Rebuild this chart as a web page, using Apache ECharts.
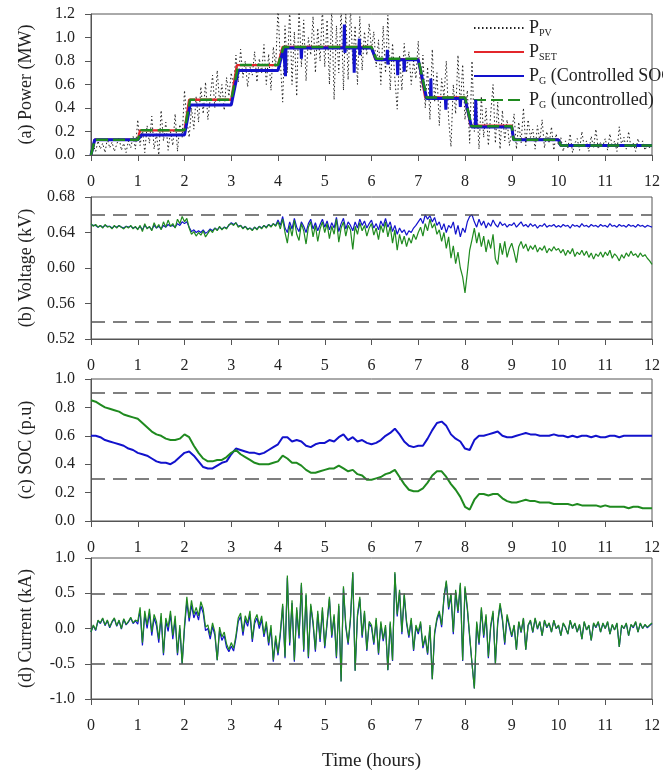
<!DOCTYPE html>
<html><head><meta charset="utf-8">
<script src="https://cdn.jsdelivr.net/npm/echarts@6/dist/echarts.min.js"></script>
<style>html,body{margin:0;padding:0;background:#fff}#c{width:663px;height:773px}</style>
</head><body><div id="c"></div>
<script>
// ---------- DATA ----------
const DT_FAST = 0.05;   // sampling step (hours) of PV, voltage, current
const DT_SOC = 0.1;     // sampling step (hours) of SOC
const X_TICKS = [0,1,2,3,4,5,6,7,8,9,10,11,12];

const P_PV = [
0.00,0.08,0.03,0.12,0.05,0.10,0.02,0.14,0.06,0.11,0.03,0.09,0.15,0.04,0.10,0.02,0.12,0.06,0.16,0.05,
0.30,0.08,0.22,0.02,0.25,0.10,0.33,0.05,0.18,0.00,0.38,0.12,0.28,0.04,0.20,0.08,0.35,0.03,0.26,0.15,
0.55,0.30,0.15,0.40,0.22,0.50,0.28,0.58,0.35,0.62,0.30,0.48,0.68,0.40,0.72,0.45,0.60,0.38,0.66,0.50,
0.70,0.58,0.85,0.62,0.90,0.66,0.80,0.58,0.75,0.68,0.88,0.62,0.82,0.70,0.94,0.60,0.86,0.55,0.92,0.75,
1.25,0.80,0.45,1.10,0.70,1.25,0.60,1.05,0.50,1.25,0.75,1.15,0.63,1.00,0.85,1.18,0.70,1.08,0.80,1.25,
0.75,1.15,0.60,1.25,0.47,1.10,0.70,1.25,0.55,1.20,0.64,1.25,0.78,1.10,0.60,1.18,0.72,1.05,0.85,1.12,
0.90,1.05,0.75,0.98,0.60,1.10,0.70,1.19,0.55,0.95,0.65,0.39,0.85,0.55,0.95,0.70,0.88,0.60,0.80,0.65,
0.97,0.55,0.85,0.40,0.75,0.30,0.90,0.45,0.70,0.25,0.65,0.50,0.80,0.30,0.07,0.60,0.35,0.85,0.40,0.77,
0.30,0.55,0.10,0.80,0.20,0.45,0.05,0.50,0.15,0.40,0.08,0.35,0.60,0.10,0.45,0.05,0.38,0.12,0.30,0.08,
0.20,0.35,0.05,0.28,0.10,0.40,0.08,0.30,0.15,0.22,0.05,0.25,0.12,0.30,0.06,0.20,0.10,0.24,0.04,0.18,
0.08,0.15,0.03,0.12,0.06,0.18,0.02,0.10,0.14,0.04,0.20,0.07,0.12,0.03,0.16,0.06,0.22,0.05,0.11,0.08,
0.14,0.04,0.18,0.07,0.12,0.03,0.24,0.08,0.15,0.05,0.20,0.06,0.10,0.03,0.14,0.07,0.12,0.04,0.09,0.06,
0.08];

const P_SET = [[0,0],[0.08,0.13],[1.0,0.13],[1.05,0.21],[2.0,0.21],[2.1,0.47],[3.0,0.47],[3.12,0.765],[4.0,0.765],[4.1,0.92],[6.0,0.92],[6.08,0.815],[7.0,0.815],[7.15,0.49],[8.0,0.49],[8.12,0.25],[9.0,0.25],[9.04,0.13],[10.0,0.13],[10.05,0.08],[12,0.08]];

const P_G_CTRL = [[0,0],[0.08,0.13],[1.0,0.13],[1.08,0.17],[2.0,0.17],[2.12,0.425],[3.0,0.425],[3.15,0.72],[4.0,0.72],[4.12,0.91],[4.15,0.91],[4.16,0.67],[4.17,0.91],[4.49,0.91],[4.5,0.82],[4.51,0.91],[5.41,0.91],[5.42,1.11],[5.43,0.87],[5.44,0.91],[5.62,0.91],[5.63,0.70],[5.64,0.91],[5.73,0.91],[5.74,0.99],[5.75,0.85],[5.76,0.91],[6.0,0.91],[6.1,0.81],[6.33,0.81],[6.34,0.895],[6.35,0.77],[6.36,0.81],[6.55,0.81],[6.56,0.68],[6.57,0.81],[6.69,0.81],[6.7,0.71],[6.71,0.81],[7.0,0.81],[7.18,0.48],[7.26,0.48],[7.27,0.65],[7.28,0.48],[7.58,0.48],[7.59,0.385],[7.6,0.48],[7.89,0.48],[7.9,0.41],[7.91,0.48],[8.0,0.48],[8.14,0.238],[8.22,0.238],[8.23,0.47],[8.24,0.238],[9.0,0.238],[9.04,0.13],[10.0,0.13],[10.05,0.08],[12,0.08]];

const P_G_UNCTRL = [[0,0],[0.08,0.13],[1.0,0.13],[1.08,0.21],[2.0,0.21],[2.12,0.47],[3.0,0.47],[3.15,0.765],[4.0,0.765],[4.12,0.92],[6.0,0.92],[6.1,0.82],[7.0,0.82],[7.18,0.49],[8.0,0.49],[8.14,0.245],[9.0,0.245],[9.04,0.13],[10.0,0.13],[10.05,0.08],[12,0.08]];

const V_CTRL = [
0.649,0.648,0.648,0.646,0.648,0.646,0.648,0.647,0.647,0.645,0.647,0.646,0.648,0.646,0.645,0.647,0.646,0.647,0.645,0.646,
0.644,0.647,0.643,0.648,0.645,0.646,0.643,0.648,0.645,0.647,0.644,0.648,0.646,0.649,0.647,0.648,0.646,0.650,0.648,0.652,
0.650,0.652,0.646,0.641,0.643,0.640,0.642,0.640,0.643,0.639,0.641,0.644,0.642,0.645,0.643,0.646,0.644,0.646,0.645,0.648,
0.651,0.649,0.651,0.647,0.648,0.645,0.647,0.644,0.645,0.643,0.646,0.644,0.647,0.645,0.648,0.646,0.649,0.647,0.650,0.648,
0.654,0.648,0.658,0.645,0.640,0.652,0.644,0.656,0.646,0.641,0.652,0.647,0.640,0.650,0.655,0.644,0.651,0.642,0.649,0.655,
0.646,0.653,0.643,0.651,0.645,0.657,0.641,0.650,0.656,0.644,0.652,0.648,0.642,0.652,0.645,0.655,0.648,0.653,0.645,0.650,
0.654,0.645,0.650,0.643,0.653,0.647,0.656,0.646,0.652,0.641,0.648,0.638,0.645,0.640,0.643,0.637,0.642,0.640,0.645,0.648,
0.652,0.656,0.650,0.660,0.655,0.659,0.652,0.657,0.648,0.652,0.643,0.650,0.640,0.648,0.645,0.652,0.638,0.648,0.635,0.645,
0.640,0.652,0.658,0.660,0.652,0.646,0.655,0.648,0.653,0.645,0.651,0.647,0.654,0.649,0.646,0.652,0.648,0.650,0.646,0.649,
0.648,0.651,0.646,0.649,0.652,0.647,0.649,0.646,0.650,0.647,0.649,0.645,0.648,0.647,0.650,0.646,0.648,0.647,0.649,0.646,
0.648,0.646,0.649,0.647,0.648,0.645,0.649,0.647,0.648,0.646,0.650,0.647,0.648,0.646,0.649,0.647,0.648,0.646,0.649,0.647,
0.648,0.646,0.650,0.647,0.648,0.646,0.649,0.647,0.648,0.646,0.649,0.647,0.648,0.646,0.649,0.647,0.648,0.646,0.648,0.647,
0.646];

const V_UNCTRL = [
0.650,0.647,0.649,0.646,0.648,0.645,0.649,0.646,0.647,0.644,0.648,0.645,0.648,0.646,0.644,0.647,0.645,0.648,0.644,0.647,
0.643,0.648,0.641,0.650,0.644,0.647,0.642,0.651,0.645,0.649,0.643,0.652,0.646,0.654,0.647,0.650,0.645,0.655,0.650,0.658,
0.652,0.656,0.645,0.638,0.641,0.636,0.640,0.637,0.642,0.635,0.639,0.643,0.640,0.645,0.642,0.647,0.643,0.646,0.644,0.649,
0.650,0.648,0.651,0.646,0.648,0.644,0.647,0.643,0.645,0.642,0.646,0.643,0.647,0.644,0.648,0.645,0.649,0.646,0.650,0.647,
0.652,0.644,0.655,0.640,0.628,0.648,0.636,0.654,0.638,0.631,0.650,0.642,0.627,0.646,0.652,0.635,0.648,0.630,0.644,0.652,
0.640,0.650,0.633,0.647,0.638,0.655,0.629,0.645,0.652,0.636,0.648,0.643,0.621,0.647,0.638,0.651,0.642,0.648,0.636,0.645,
0.650,0.637,0.645,0.632,0.648,0.640,0.652,0.635,0.647,0.628,0.643,0.620,0.638,0.627,0.636,0.624,0.634,0.628,0.638,0.632,
0.640,0.646,0.636,0.650,0.642,0.655,0.645,0.650,0.638,0.643,0.630,0.640,0.622,0.635,0.611,0.625,0.605,0.618,0.600,0.590,
0.572,0.595,0.620,0.632,0.645,0.628,0.640,0.624,0.636,0.618,0.632,0.622,0.638,0.610,0.604,0.628,0.615,0.630,0.612,0.622,
0.628,0.618,0.606,0.624,0.630,0.622,0.627,0.619,0.625,0.621,0.626,0.618,0.623,0.620,0.625,0.617,0.622,0.619,0.624,0.620,
0.622,0.617,0.621,0.614,0.620,0.616,0.622,0.613,0.618,0.615,0.620,0.614,0.619,0.612,0.617,0.610,0.616,0.613,0.618,0.612,
0.618,0.614,0.620,0.611,0.616,0.613,0.608,0.615,0.611,0.617,0.613,0.619,0.614,0.616,0.612,0.617,0.613,0.615,0.611,0.608,
0.604];

const SOC_CTRL = [
0.60,0.60,0.59,0.57,0.56,0.55,0.54,0.53,0.51,0.50,
0.48,0.47,0.46,0.44,0.42,0.41,0.41,0.40,0.42,0.45,
0.48,0.49,0.46,0.42,0.38,0.37,0.37,0.39,0.41,0.42,
0.47,0.51,0.50,0.49,0.48,0.48,0.47,0.48,0.50,0.52,
0.54,0.59,0.59,0.56,0.57,0.56,0.53,0.52,0.54,0.55,
0.55,0.57,0.56,0.59,0.61,0.57,0.59,0.56,0.57,0.55,
0.54,0.55,0.57,0.60,0.62,0.65,0.61,0.56,0.53,0.52,
0.53,0.53,0.58,0.64,0.69,0.70,0.67,0.61,0.58,0.56,
0.51,0.50,0.57,0.60,0.60,0.61,0.62,0.63,0.60,0.59,
0.59,0.60,0.61,0.62,0.61,0.61,0.60,0.60,0.60,0.61,
0.60,0.60,0.59,0.60,0.59,0.60,0.60,0.59,0.60,0.59,
0.59,0.60,0.60,0.59,0.60,0.60,0.60,0.60,0.60,0.60,
0.60];

const SOC_UNCTRL = [
0.85,0.84,0.82,0.80,0.79,0.78,0.77,0.75,0.74,0.73,
0.72,0.69,0.66,0.63,0.61,0.60,0.58,0.57,0.57,0.58,
0.61,0.59,0.53,0.48,0.44,0.42,0.42,0.43,0.43,0.45,
0.48,0.50,0.47,0.45,0.43,0.41,0.40,0.40,0.40,0.41,
0.42,0.46,0.44,0.41,0.41,0.39,0.36,0.34,0.34,0.35,
0.36,0.37,0.37,0.39,0.37,0.35,0.36,0.33,0.32,0.29,
0.29,0.30,0.31,0.33,0.34,0.36,0.31,0.26,0.22,0.21,
0.21,0.23,0.27,0.32,0.35,0.35,0.31,0.26,0.22,0.17,
0.10,0.08,0.15,0.19,0.19,0.18,0.19,0.19,0.16,0.14,
0.13,0.13,0.14,0.15,0.14,0.14,0.13,0.13,0.13,0.12,
0.12,0.12,0.12,0.11,0.12,0.11,0.11,0.11,0.11,0.10,
0.11,0.10,0.10,0.10,0.10,0.09,0.10,0.10,0.09,0.09,
0.09];

const I_CTRL = [
-0.05,0.04,-0.03,0.11,0.07,0.14,0.04,0.11,0.01,0.09,0.14,0.03,0.11,-0.01,0.13,0.05,0.09,0.15,0.07,0.11,
0.06,0.26,-0.24,0.20,0.00,0.22,-0.10,0.15,0.04,-0.20,0.17,-0.38,0.10,-0.04,0.20,-0.15,0.12,-0.38,0.00,-0.50,
0.00,0.38,0.10,0.33,0.15,0.24,0.12,0.32,0.22,-0.03,0.00,-0.15,0.03,-0.10,-0.45,-0.03,-0.17,-0.10,-0.27,-0.33,
-0.25,-0.32,-0.14,0.10,0.17,-0.10,0.13,0.03,0.20,-0.19,0.07,0.15,0.00,0.13,-0.12,0.05,-0.24,0.00,-0.47,-0.15,
-0.38,-0.09,0.32,-0.42,0.72,-0.24,0.36,-0.47,0.26,-0.14,0.62,-0.33,0.47,-0.42,0.32,0.06,-0.33,0.21,-0.19,0.26,
-0.28,0.06,0.42,-0.13,0.17,-0.42,0.32,-0.75,0.57,0.02,-0.23,0.12,0.78,-0.60,0.17,0.42,-0.13,0.22,-0.32,0.07,
0.02,-0.23,0.12,-0.37,0.07,-0.18,0.02,-0.59,0.07,-0.46,0.78,0.17,0.52,-0.08,0.47,0.07,-0.13,0.12,-0.32,0.02,
-0.08,0.07,-0.28,-0.13,-0.37,0.02,-0.72,-0.08,0.12,0.22,0.02,0.42,0.66,0.27,0.47,-0.08,0.52,0.22,0.62,-0.46,
0.57,0.27,-0.13,-0.50,-0.85,0.07,-0.23,0.27,-0.13,0.17,-0.42,0.02,0.22,-0.50,0.07,0.33,0.12,-0.23,0.17,0.02,
-0.12,0.04,-0.30,0.09,-0.06,0.14,-0.30,0.04,0.11,-0.06,0.14,-0.01,0.09,-0.10,0.11,0.01,0.07,-0.05,0.11,0.00,
0.04,-0.10,0.07,0.01,-0.08,0.11,0.00,0.07,-0.05,0.05,-0.15,0.09,-0.02,0.04,-0.17,0.07,0.01,0.09,-0.05,0.07,
0.00,0.09,-0.08,0.05,-0.02,0.07,-0.26,0.04,0.00,0.07,-0.10,0.05,0.01,0.09,-0.05,0.07,0.00,0.05,0.01,0.04,
0.07];

const I_UNCTRL = [
-0.05,0.05,-0.02,0.12,0.08,0.15,0.05,0.12,0.02,0.10,0.15,0.04,0.12,0.00,0.14,0.06,0.10,0.16,0.08,0.12,
0.10,0.30,-0.20,0.25,0.05,0.28,-0.05,0.20,0.10,-0.15,0.22,-0.35,0.15,0.02,0.25,-0.10,0.18,-0.35,0.05,-0.50,
0.05,0.45,0.15,0.40,0.20,0.30,0.18,0.38,0.28,0.02,0.05,-0.10,0.08,-0.05,-0.45,0.02,-0.12,-0.05,-0.22,-0.30,
-0.20,-0.28,-0.10,0.15,0.22,-0.05,0.18,0.08,0.25,-0.15,0.12,0.20,0.05,0.18,-0.08,0.10,-0.20,0.05,-0.45,-0.10,
-0.35,-0.05,0.35,-0.40,0.75,-0.20,0.40,-0.45,0.30,-0.10,0.65,-0.30,0.50,-0.40,0.35,0.10,-0.30,0.25,-0.15,0.30,
-0.25,0.10,0.45,-0.10,0.20,-0.40,0.35,-0.75,0.60,0.05,-0.20,0.15,0.80,-0.60,0.20,0.45,-0.10,0.25,-0.30,0.10,
0.05,-0.20,0.15,-0.35,0.10,-0.15,0.05,-0.59,0.10,-0.45,0.80,0.20,0.55,-0.05,0.50,0.10,-0.10,0.15,-0.30,0.05,
-0.05,0.10,-0.25,-0.10,-0.35,0.05,-0.72,-0.05,0.15,0.25,0.05,0.45,0.68,0.30,0.50,-0.05,0.55,0.25,0.65,-0.45,
0.60,0.30,-0.10,-0.50,-0.85,0.10,-0.20,0.30,-0.10,0.20,-0.40,0.05,0.25,-0.50,0.10,0.36,0.15,-0.20,0.20,0.05,
-0.10,0.05,-0.30,0.10,-0.05,0.15,-0.30,0.05,0.12,-0.05,0.15,0.00,0.10,-0.10,0.12,0.02,0.08,-0.05,0.12,0.00,
0.05,-0.10,0.08,0.02,-0.08,0.12,0.00,0.08,-0.05,0.06,-0.15,0.10,-0.02,0.05,-0.17,0.08,0.02,0.10,-0.05,0.08,
0.00,0.10,-0.08,0.06,-0.02,0.08,-0.26,0.05,0.00,0.08,-0.10,0.06,0.02,0.10,-0.05,0.08,0.00,0.06,0.02,0.05,
0.08];

const V_LIMITS = [0.54, 0.66];
const SOC_LIMITS = [0.3, 0.9];
const I_LIMITS = [-0.5, 0.5];

const PANEL_NAMES = ['(a) Power (MW)', '(b) Voltage (kV)', '(c) SOC (p.u)', '(d) Current (kA)'];
const X_NAME = 'Time (hours)';
const SERIES_NAMES = ['P_PV', 'P_SET', 'P_G_CTRL', 'P_G_UNCTRL'];
const LEGEND_TEXT = {
  P_PV: '{b|P}{s|PV}',
  P_SET: '{b|P}{s|SET}',
  P_G_CTRL: '{b|P}{s|G}{b| (Controlled SOC)}',
  P_G_UNCTRL: '{b|P}{s|G}{b| (uncontrolled)}'
};

// ---------- CHART ----------
const FONT = 'Liberation Serif';
const BLUE = '#1212cc', GREEN = '#1f8a1f', RED = '#e3262b', AX = '#555';
const withTime = (arr, dt) => arr.map((v, i) => [Math.round(i * dt * 100) / 100, v]);

const tops = [14, 197, 379, 558];
const heights = [141, 142, 142, 141];
const yCfg = [
  {min: 0, max: 1.2, interval: 0.2, dec: 1},
  {min: 0.52, max: 0.68, interval: 0.04, dec: 2},
  {min: 0, max: 1.0, interval: 0.2, dec: 1},
  {min: -1, max: 1, interval: 0.5, dec: 1}
];

const grids = tops.map((t, i) => ({
  left: 91, right: 9, top: t, height: heights[i],
  show: true, borderColor: AX, borderWidth: 1, backgroundColor: 'transparent'
}));

const xAxes = tops.map((t, i) => ({
  type: 'value', gridIndex: i, min: X_TICKS[0], max: X_TICKS[X_TICKS.length - 1], interval: 1,
  axisLine: {show: true, onZero: false, lineStyle: {color: AX, width: 1}},
  axisTick: {show: true, inside: false, length: 6, lineStyle: {color: AX}},
  axisLabel: {fontFamily: FONT, fontSize: 16, color: '#222', margin: 19},
  splitLine: {show: false},
  name: i === 3 ? X_NAME : '', nameLocation: 'middle', nameGap: 53,
  nameTextStyle: {fontFamily: FONT, fontSize: 19, color: '#222'}
}));

const yAxes = yCfg.map((c, i) => ({
  type: 'value', gridIndex: i, min: c.min, max: c.max, interval: c.interval,
  axisLine: {show: true, onZero: false, lineStyle: {color: AX, width: 1}},
  axisTick: {show: true, inside: false, length: 6, lineStyle: {color: AX}},
  axisLabel: {fontFamily: FONT, fontSize: 16, color: '#222', margin: 16,
    formatter: v => v.toFixed(c.dec)},
  splitLine: {show: false},
  name: PANEL_NAMES[i], nameLocation: 'middle', nameGap: 56, nameRotate: 90,
  nameTextStyle: {fontFamily: FONT, fontSize: 18, color: '#222'}
}));

const limitLine = vals => ({
  silent: true, symbol: 'none', label: {show: false},
  lineStyle: {type: [14, 8], color: '#555', width: 1.5},
  emphasis: {disabled: true},
  data: vals.map(v => ({yAxis: v}))
});

const line = (name, xi, data, color, width, type, z, extra) => Object.assign({
  name, type: 'line', xAxisIndex: xi, yAxisIndex: xi, data,
  symbol: 'none', showSymbol: false, animation: false, z,
  lineStyle: {color, width, type}, itemStyle: {color},
  emphasis: {disabled: true}
}, extra || {});

const series = [
  line('P_PV', 0, withTime(P_PV, DT_FAST), '#222', 1, [1.5, 2.5], 2),
  line('P_SET', 0, P_SET, RED, 2.4, 'solid', 3),
  line('P_G_CTRL', 0, P_G_CTRL, BLUE, 3, 'solid', 4),
  line('P_G_UNCTRL', 0, P_G_UNCTRL, GREEN, 2.5, [12, 5], 5),

  line('V_CTRL', 1, withTime(V_CTRL, DT_FAST), BLUE, 1.2, 'solid', 3, {markLine: limitLine(V_LIMITS)}),
  line('V_UNCTRL', 1, withTime(V_UNCTRL, DT_FAST), GREEN, 1.2, 'solid', 4),

  line('SOC_CTRL', 2, withTime(SOC_CTRL, DT_SOC), BLUE, 2, 'solid', 3, {markLine: limitLine(SOC_LIMITS)}),
  line('SOC_UNCTRL', 2, withTime(SOC_UNCTRL, DT_SOC), GREEN, 2, 'solid', 4),

  line('I_CTRL', 3, withTime(I_CTRL, DT_FAST), BLUE, 1.2, 'solid', 3, {markLine: limitLine(I_LIMITS)}),
  line('I_UNCTRL', 3, withTime(I_UNCTRL, DT_FAST), GREEN, 1.2, 'solid', 4)
];

const chart = echarts.init(document.getElementById('c'), null, {renderer: 'canvas'});
chart.setOption({
  animation: false,
  backgroundColor: '#fff',
  grid: grids,
  xAxis: xAxes,
  yAxis: yAxes,
  legend: {
    data: SERIES_NAMES, orient: 'vertical', left: 468, top: 14,
    itemWidth: 50, itemHeight: 14, itemGap: 5,
    backgroundColor: 'transparent', selectedMode: false,
    itemStyle: {opacity: 0},
    formatter: n => LEGEND_TEXT[n],
    textStyle: {
      fontFamily: FONT, color: '#222', padding: [0, 0, 0, 0],
      rich: {
        b: {fontFamily: FONT, fontSize: 18, color: '#222', lineHeight: 20},
        s: {fontFamily: FONT, fontSize: 10, color: '#222', lineHeight: 10, verticalAlign: 'bottom'}
      }
    }
  },
  series
});
</script></body></html>
